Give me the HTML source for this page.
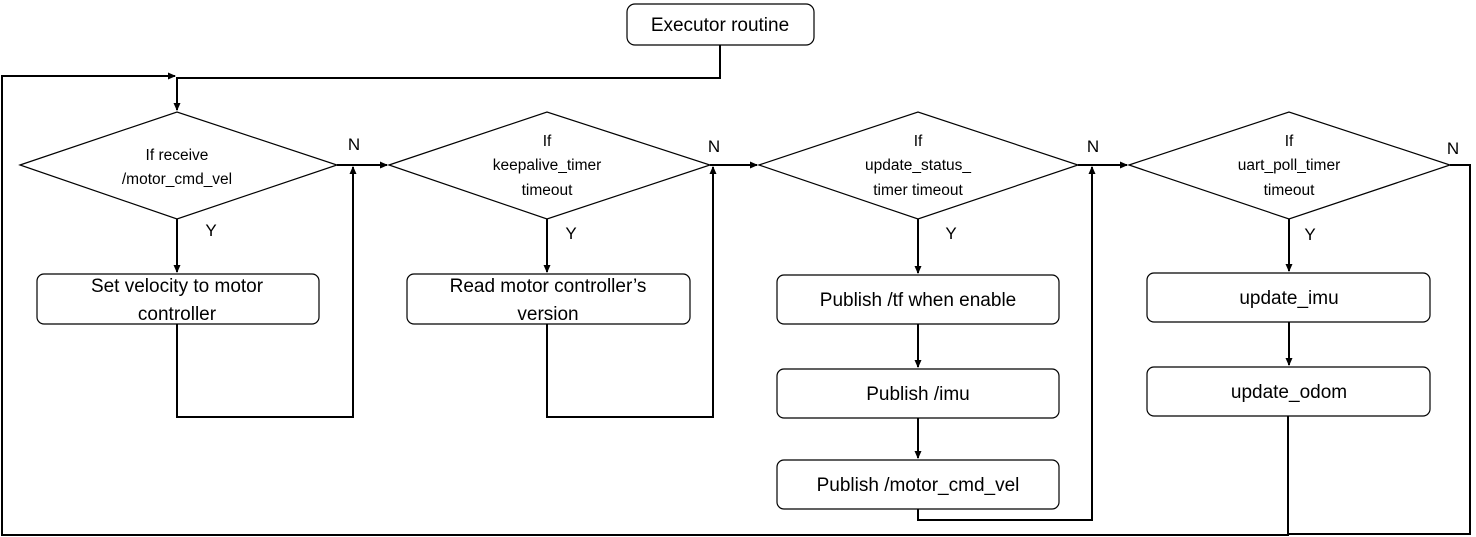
<!DOCTYPE html>
<html><head><meta charset="utf-8"><style>
html,body{margin:0;padding:0;background:#fff}
svg{display:block}
text{font-family:"Liberation Sans",sans-serif;fill:#000}
.d{font-size:15.5px}
.b{font-size:19px}
</style></head><body>
<svg width="1476" height="537" viewBox="0 0 1476 537" xmlns="http://www.w3.org/2000/svg">
<defs><marker id="a" markerWidth="8" markerHeight="8" refX="7" refY="4" orient="auto" markerUnits="userSpaceOnUse"><path d="M0,0.5 L8,4 L0,7.5 z" fill="#000"/></marker></defs>
<g fill="#fff" stroke="#000" stroke-width="1.2">
<rect x="627" y="4" width="187" height="41" rx="8"/>
<polygon points="20,165 177,112 337,165 177,219"/>
<polygon points="389,165 547,112 710,165 547,219"/>
<polygon points="759,165 918,112 1078,165 918,219"/>
<polygon points="1129,165 1289,112 1450,165 1289,219"/>
<rect x="37" y="274" width="282" height="50" rx="7"/>
<rect x="407" y="274" width="283" height="50" rx="7"/>
<rect x="777" y="275" width="282" height="49" rx="7"/>
<rect x="777" y="369" width="282" height="49" rx="7"/>
<rect x="777" y="460" width="282" height="49" rx="7"/>
<rect x="1147" y="273" width="283" height="49" rx="7"/>
<rect x="1147" y="367" width="283" height="49" rx="7"/>
</g>
<g fill="none" stroke="#000" stroke-width="2">
<polyline points="720,45 720,78 177,78 177,110" marker-end="url(#a)"/>
<polyline points="1288,416 1288,535 2,535 2,76 175,76" marker-end="url(#a)"/>
<polyline points="177,219 177,272" marker-end="url(#a)"/>
<polyline points="547,219 547,272" marker-end="url(#a)"/>
<polyline points="918,219 918,273" marker-end="url(#a)"/>
<polyline points="918,324 918,367" marker-end="url(#a)"/>
<polyline points="918,418 918,458" marker-end="url(#a)"/>
<polyline points="1289,219 1289,271" marker-end="url(#a)"/>
<polyline points="1289,322 1289,365" marker-end="url(#a)"/>
<polyline points="337,165 387,165" marker-end="url(#a)"/>
<polyline points="710,165 757,165" marker-end="url(#a)"/>
<polyline points="1078,165 1127,165" marker-end="url(#a)"/>
<polyline points="177,324 177,417 353,417 353,167" marker-end="url(#a)"/>
<polyline points="547,324 547,417 713,417 713,167" marker-end="url(#a)"/>
<polyline points="918,509 918,520 1092,520 1092,167" marker-end="url(#a)"/>
<polyline points="1450,165 1470,165 1470,534 1288,534"/>
</g>
<g text-anchor="middle">
<text x="720" y="31" font-size="19">Executor routine</text>
<text class="d" x="177" y="160">If receive</text>
<text class="d" x="177" y="184">/motor_cmd_vel</text>
<text class="d" x="547" y="146">If</text>
<text class="d" x="547" y="170">keepalive_timer</text>
<text class="d" x="547" y="195">timeout</text>
<text class="d" x="918" y="146">If</text>
<text class="d" x="918" y="170">update_status_</text>
<text class="d" x="918" y="195">timer timeout</text>
<text class="d" x="1289" y="146">If</text>
<text class="d" x="1289" y="170">uart_poll_timer</text>
<text class="d" x="1289" y="195">timeout</text>
<text class="b" x="177" y="292">Set velocity to motor</text>
<text class="b" x="177" y="320">controller</text>
<text class="b" x="548" y="292">Read motor controller’s</text>
<text class="b" x="548" y="320">version</text>
<text class="b" x="918" y="306">Publish /tf when enable</text>
<text class="b" x="918" y="400">Publish /imu</text>
<text class="b" x="918" y="491">Publish /motor_cmd_vel</text>
<text class="b" x="1289" y="304">update_imu</text>
<text class="b" x="1289" y="398">update_odom</text>
<text x="354" y="150" font-size="17">N</text>
<text x="714" y="152" font-size="17">N</text>
<text x="1093" y="152" font-size="17">N</text>
<text x="1453" y="154" font-size="17">N</text>
<text x="211" y="236" font-size="17">Y</text>
<text x="571" y="239" font-size="17">Y</text>
<text x="951" y="239" font-size="17">Y</text>
<text x="1310" y="240" font-size="17">Y</text>
</g>
</svg>
</body></html>
